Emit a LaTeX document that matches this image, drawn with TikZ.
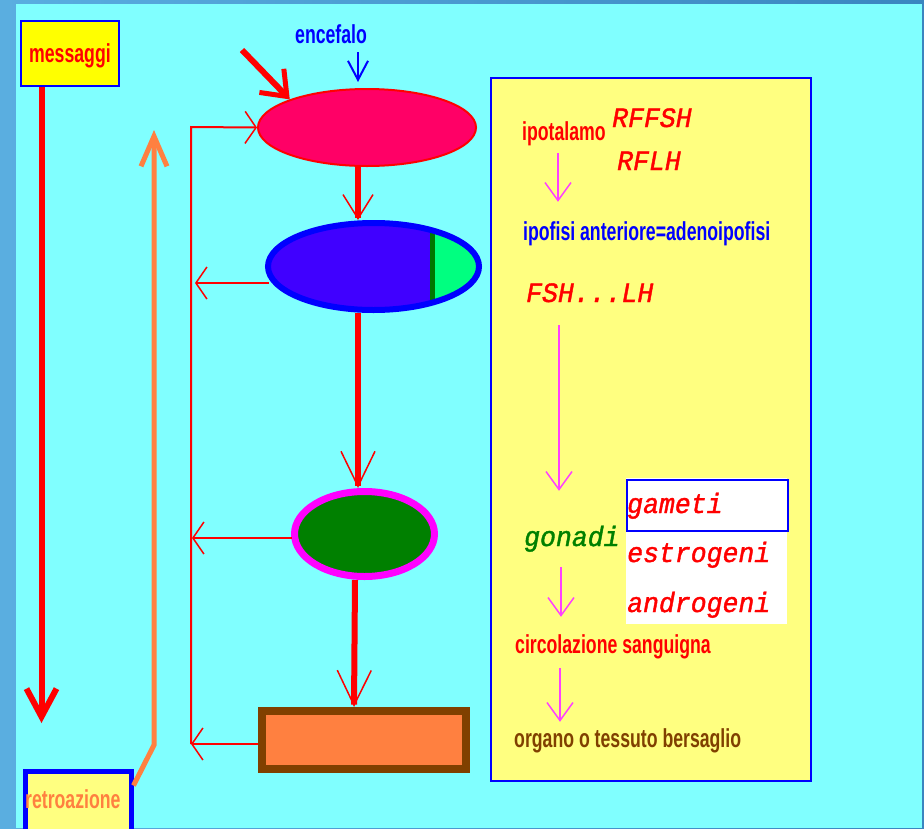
\documentclass[tikz,border=0pt]{standalone}
\usepackage{fontspec}
\usetikzlibrary{arrows.meta,shapes.geometric,calc}
\newfontfamily\pixfont[FakeStretch=0.68]{Liberation Sans Bold}
\newfontfamily\slabfont[FakeStretch=0.946,FakeBold=1.4]{Liberation Mono Italic}
\definecolor{frameL}{HTML}{5AAEE0}
\definecolor{frameR}{HTML}{3A86C0}
\definecolor{cyanbg}{HTML}{80FFFF}
\definecolor{msgyellow}{HTML}{FFFF00}
\definecolor{paleyellow}{HTML}{FFFF80}
\definecolor{hypfill}{HTML}{FF0066}
\definecolor{pitblue}{HTML}{0000FF}
\definecolor{pitfill}{HTML}{4000FF}
\definecolor{capgreen}{HTML}{00FF80}
\definecolor{capline}{HTML}{007800}
\definecolor{gonfill}{HTML}{008000}
\definecolor{gonring}{HTML}{FF00FF}
\definecolor{tgtfill}{HTML}{FF8040}
\definecolor{tgtring}{HTML}{804000}
\definecolor{retroorange}{HTML}{FF8040}
\definecolor{magarrow}{HTML}{FF40FF}
\definecolor{browntext}{HTML}{804000}
\definecolor{greentext}{HTML}{008000}
\begin{document}
\begin{tikzpicture}[x=1pt,y=-1pt,
  pix/.style={font=\pixfont\fontsize{26}{26}\selectfont, inner sep=0pt,
    text height=20pt, text depth=6pt, anchor=base west},
  slab/.style={font=\slabfont\fontsize{28}{28}\selectfont, inner sep=0pt,
    text height=18pt, text depth=6pt, anchor=base west},
  fbtip/.tip={Straight Barb[length=11pt,width=32pt,line width=1.5pt]},
  spinetip/.tip={Straight Barb[length=35pt,width=34pt,line width=1.5pt]},
  magtip/.tip={Straight Barb[length=18pt,width=26pt,line width=1.5pt]},
  fb/.style={draw=red, line width=2pt, -fbtip},
  spine/.style={draw=red, line width=6pt},
  magline/.style={draw=magarrow, line width=1.5pt, -magtip},
  organ/.style={ellipse, inner sep=0pt},
]
\clip (0,0) rectangle (924,828);
% frame and backdrop
\shade[left color=frameL, right color=frameR] (0,0) rectangle (924,828);
\fill[cyanbg] (16,4) rectangle (922,828);

% explanatory panel
\node[draw=blue, line width=2pt, fill=paleyellow, minimum width=320pt,
  minimum height=703pt, inner sep=0pt, anchor=north west] (panel) at (490,77) {};

% messages / feedback boxes
\node[draw=blue, line width=1.5pt, fill=msgyellow, minimum width=98pt,
  minimum height=65pt, inner sep=0pt, anchor=north west] (msg) at (20,20) {};
\node[pix, text=red] (msgtxt) at (29,62) {messaggi};
\node[draw=blue, line width=5pt, fill=paleyellow, minimum width=106pt,
  minimum height=80pt, inner sep=0pt, anchor=north west] (retro) at (22.5,768.5) {};
\node[pix, text=retroorange] (retrotxt) at (25,808) {retroazione};

% messages arrow
\coordinate (msgend) at (41.5,723);
\draw[red, line width=6pt, -{Straight Barb[length=28pt,width=30pt,line width=6pt]}]
  (msg.south -| msgend) -- (msgend);

% feedback arrow
\coordinate (retrobend) at (154,745);
\coordinate (retrotop) at (154,130);
\draw[retroorange, line width=5pt, -{Straight Barb[length=30pt,width=26pt,line width=5pt]}]
  ([shift={(0,17)}]retro.north east) -- (retrobend) -- (retrotop);

% glands
\node[organ, draw=red, line width=2pt, fill=hypfill, minimum width=218pt,
  minimum height=77pt] (hyp) at (367,127.5) {};
\node[organ, draw=pitblue, line width=6pt, fill=pitfill, minimum width=211pt,
  minimum height=87pt,
  path picture={
    \fill[capgreen] ([xshift=58.5pt]path picture bounding box.south)
      rectangle (path picture bounding box.north east);
    \draw[capline, line width=5pt] ([xshift=58.5pt]path picture bounding box.south)
      -- ([xshift=58.5pt]path picture bounding box.north);
  }] (pit) at (373.5,266.5) {};
\node[organ, draw=gonring, line width=7pt, fill=gonfill, minimum width=140pt,
  minimum height=85pt] (gon) at (364.5,534) {};
\node[draw=tgtring, line width=8pt, fill=tgtfill, minimum width=204pt,
  minimum height=58pt, inner sep=0pt] (tgt) at (364,740) {};

% main axis
\draw[spine, -{Straight Barb[length=24pt,width=30pt,line width=1.5pt]}]
  ([shift={(-9,0)}]hyp.south) -- ([shift={(-15.5,0)}]pit.north);
\draw[spine, -spinetip] ([shift={(-15.5,0)}]pit.south) -- ([shift={(-6.5,0)}]gon.north);
\draw[spine, -spinetip] ([shift={(-9.5,0)}]gon.south) -- ([shift={(-10,0)}]tgt.north);

% negative feedback loop
\coordinate (fbtop) at (191,127);
\coordinate (fbbot) at (191,744);
\draw[fb] (fbbot) -- (fbtop) -- (hyp.west);
\draw[fb] ([shift={(4,16.5)}]pit.west) -- ([shift={(4,16.5)}]pit.west -| fbtop);
\draw[fb] ([shift={(1,4)}]gon.west) -- ([shift={(1,4)}]gon.west -| fbtop);
\draw[fb] ([shift={(0,4)}]tgt.west) -- ([shift={(0,4)}]tgt.west -| fbtop);

% inputs from outside
\coordinate (stim) at (242,50);
\draw[red, line width=6pt, -{Straight Barb[length=22pt,width=34pt,line width=5pt]}]
  (stim) -- (hyp.160);
\node[pix, text=blue] (enc) at (295,43) {encefalo};
\coordinate (encst) at (358,52);
\draw[blue, line width=2pt, -{Straight Barb[length=19pt,width=20pt,line width=2pt]}]
  (encst) -- ([shift={(-9,-6)}]hyp.north);

% panel text
\node[pix, text=red] (ipot) at (522,140) {ipotalamo};
\node[slab, text=red] (rffsh) at (612,127) {RFFSH};
\node[slab, text=red] (rflh) at (617,170) {RFLH};
\node[pix, text=blue] (ipof) at (523,240) {ipofisi anteriore=adenoipofisi};
\node[slab, text=red] (fsh) at (526,302) {FSH...LH};
\node[slab, text=greentext] (gonadi) at (524,546) {gonadi};
\node[fill=white, minimum width=161pt, minimum height=146pt, inner sep=0pt,
  anchor=north west] (hormbox) at (626,478) {};
\node[draw=blue, line width=2pt, fill=white, minimum width=161pt,
  minimum height=51pt, inner sep=0pt, anchor=north west] (gambox) at (626,479) {};
\node[slab, text=red] (gam) at (627,513) {gameti};
\node[slab, text=red] (estr) at (627,562) {estrogeni};
\node[slab, text=red] (andr) at (627,612) {androgeni};
\node[pix, text=red] (circ) at (515,653) {circolazione sanguigna};
\node[pix, text=browntext] (organo) at (514,747) {organo o tessuto bersaglio};

% panel arrows
\draw[magline] ([shift={(36,7)}]ipot.south west) -- ([shift={(35,-18)}]ipof.north west);
\draw[magline] ([shift={(33,17)}]fsh.south west) -- ([shift={(35,-37)}]gonadi.north west);
\draw[magline] ([shift={(37,15)}]gonadi.south west) -- ([shift={(46,-16)}]circ.north west);
\draw[magline] ([shift={(45,9)}]circ.south west) -- ([shift={(46,-5)}]organo.north west);
\end{tikzpicture}
\end{document}
